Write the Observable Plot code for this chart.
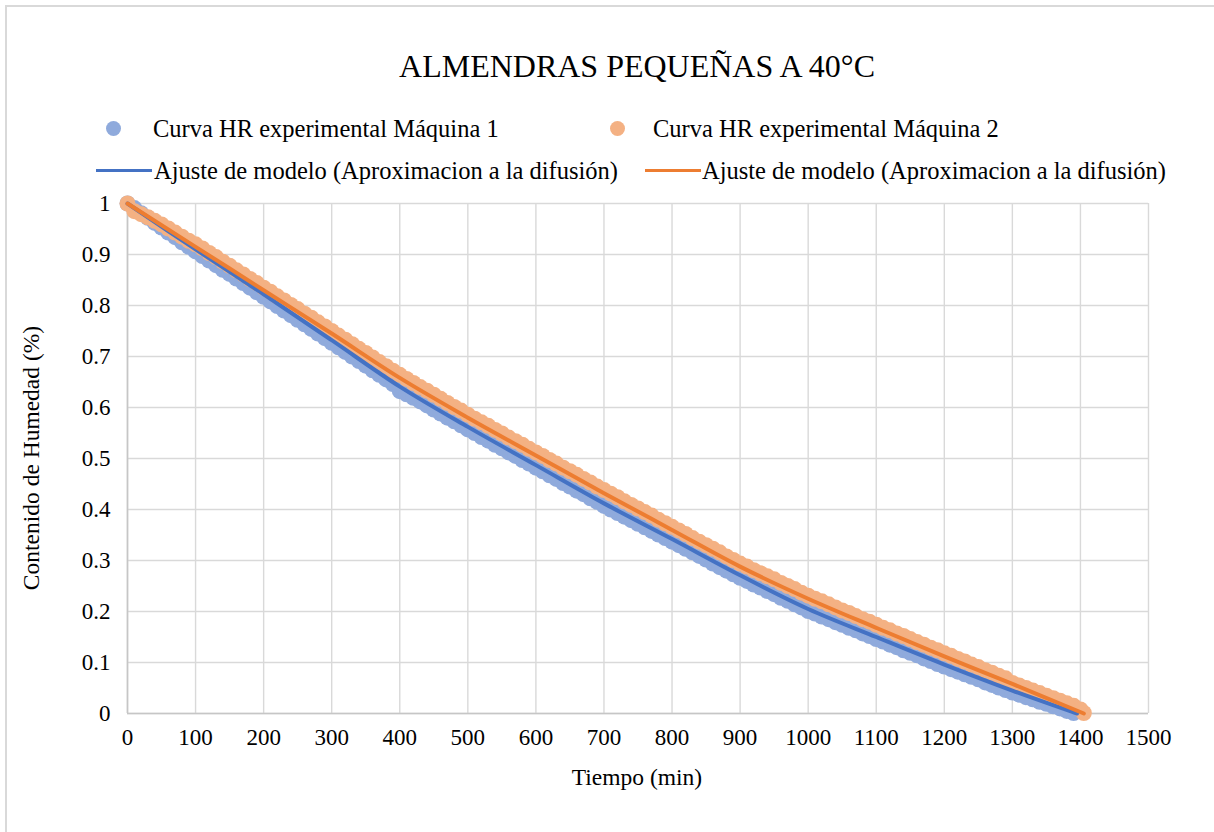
<!DOCTYPE html>
<html><head><meta charset="utf-8">
<script src="https://cdn.jsdelivr.net/npm/d3@7"></script>
<script src="https://cdn.jsdelivr.net/npm/@observablehq/plot@0.6"></script>
<style>
body{margin:0;background:#fff;font-family:"Liberation Serif","Times New Roman",serif;color:#000;}
#wrap{position:relative;width:1214px;height:832px;overflow:hidden;}
#frame{position:absolute;left:5px;top:5px;width:1300px;height:900px;border:2px solid #d9d9d9;box-sizing:border-box;}
#chart{position:absolute;left:0;top:0;}
.t{position:absolute;white-space:nowrap;line-height:1;}
#title{left:0;width:1274px;text-align:center;top:50px;font-size:32px;}
.leg{position:absolute;font-size:24.5px;white-space:nowrap;line-height:1;}
.dot{position:absolute;width:15px;height:15px;border-radius:50%;}
.ln{position:absolute;height:3px;}
#xt{left:0;width:1274px;text-align:center;top:766px;font-size:23.5px;}
#yt{left:32px;top:458px;font-size:23.5px;transform:translate(-50%,-50%) rotate(-90deg);transform-origin:center;}
</style></head>
<body><div id="wrap"><div id="frame"></div><div id="chart"></div>
<div class="t" id="title">ALMENDRAS PEQUEÑAS A 40°C</div>
<div class="dot" style="left:106px;top:121px;background:#8faadc"></div>
<div class="leg" style="left:153px;top:117px">Curva HR experimental Máquina 1</div>
<div class="dot" style="left:610px;top:121px;background:#f4b183"></div>
<div class="leg" style="left:653px;top:117px">Curva HR experimental Máquina 2</div>
<div class="ln" style="left:96px;width:56px;top:169px;background:#4472c4"></div>
<div class="leg" style="left:154px;top:159px">Ajuste de modelo (Aproximacion a la difusión)</div>
<div class="ln" style="left:645px;width:56px;top:169px;background:#ed7d31"></div>
<div class="leg" style="left:702px;top:159px">Ajuste de modelo (Aproximacion a la difusión)</div>
<div class="t" id="xt">Tiempo (min)</div>
<div class="t" id="yt">Contenido de Humedad (%)</div>
</div>
<script>
const xTicks = [0,100,200,300,400,500,600,700,800,900,1000,1100,1200,1300,1400,1500];
const xTickLabels = ["0","100","200","300","400","500","600","700","800","900","1000","1100","1200","1300","1400","1500"];
const yTicks = [0,0.1,0.2,0.3,0.4,0.5,0.6,0.7,0.8,0.9,1];
const yTickLabels = ["0","0.1","0.2","0.3","0.4","0.5","0.6","0.7","0.8","0.9","1"];

// Experimental curve, Máquina 1 (every 10 min)
const m1Time = [0,10,20,30,40,50,60,70,80,90,100,110,120,130,140,150,160,170,180,190,200,210,220,230,240,250,260,270,280,290,300,310,320,330,340,350,360,370,380,390,400,410,420,430,440,450,460,470,480,490,500,510,520,530,540,550,560,570,580,590,600,610,620,630,640,650,660,670,680,690,700,710,720,730,740,750,760,770,780,790,800,810,820,830,840,850,860,870,880,890,900,910,920,930,940,950,960,970,980,990,1000,1010,1020,1030,1040,1050,1060,1070,1080,1090,1100,1110,1120,1130,1140,1150,1160,1170,1180,1190,1200,1210,1220,1230,1240,1250,1260,1270,1280,1290,1300,1310,1320,1330,1340,1350,1360,1370,1380,1390];
const m1HR = [1.000,0.991,0.981,0.972,0.962,0.953,0.943,0.934,0.924,0.915,0.906,0.897,0.888,0.879,0.870,0.862,0.853,0.844,0.835,0.826,0.817,0.808,0.799,0.790,0.781,0.772,0.763,0.754,0.745,0.736,0.727,0.718,0.709,0.700,0.691,0.682,0.673,0.664,0.655,0.646,0.632,0.626,0.619,0.612,0.604,0.596,0.588,0.580,0.573,0.565,0.557,0.550,0.542,0.535,0.527,0.520,0.512,0.505,0.497,0.490,0.482,0.475,0.467,0.460,0.452,0.445,0.437,0.430,0.422,0.415,0.407,0.400,0.393,0.386,0.379,0.372,0.365,0.358,0.351,0.344,0.337,0.330,0.323,0.316,0.309,0.302,0.294,0.287,0.280,0.273,0.266,0.260,0.253,0.247,0.240,0.234,0.227,0.221,0.214,0.208,0.201,0.196,0.190,0.185,0.179,0.174,0.168,0.163,0.157,0.152,0.146,0.141,0.135,0.130,0.124,0.119,0.114,0.108,0.103,0.097,0.092,0.087,0.082,0.077,0.072,0.067,0.061,0.056,0.051,0.046,0.041,0.037,0.032,0.028,0.023,0.019,0.014,0.010,0.005,0.001];

// Experimental curve, Máquina 2 (every 10 min)
const m2Time = [0,10,20,30,40,50,60,70,80,90,100,110,120,130,140,150,160,170,180,190,200,210,220,230,240,250,260,270,280,290,300,310,320,330,340,350,360,370,380,390,400,410,420,430,440,450,460,470,480,490,500,510,520,530,540,550,560,570,580,590,600,610,620,630,640,650,660,670,680,690,700,710,720,730,740,750,760,770,780,790,800,810,820,830,840,850,860,870,880,890,900,910,920,930,940,950,960,970,980,990,1000,1010,1020,1030,1040,1050,1060,1070,1080,1090,1100,1110,1120,1130,1140,1150,1160,1170,1180,1190,1200,1210,1220,1230,1240,1250,1260,1270,1280,1290,1300,1310,1320,1330,1340,1350,1360,1370,1380,1390,1400,1405];
const m2HR = [1.000,0.985,0.979,0.973,0.966,0.959,0.951,0.943,0.935,0.927,0.920,0.912,0.903,0.895,0.886,0.878,0.869,0.861,0.852,0.844,0.835,0.827,0.818,0.810,0.801,0.793,0.784,0.776,0.767,0.759,0.750,0.741,0.733,0.724,0.715,0.707,0.698,0.689,0.681,0.672,0.664,0.656,0.648,0.640,0.633,0.625,0.617,0.609,0.601,0.594,0.586,0.578,0.571,0.564,0.556,0.549,0.541,0.534,0.527,0.519,0.512,0.505,0.497,0.490,0.482,0.475,0.468,0.460,0.453,0.445,0.438,0.431,0.424,0.416,0.409,0.402,0.395,0.388,0.380,0.373,0.366,0.359,0.352,0.344,0.337,0.330,0.323,0.316,0.308,0.301,0.294,0.288,0.281,0.275,0.269,0.263,0.256,0.250,0.244,0.237,0.231,0.225,0.220,0.214,0.208,0.202,0.197,0.191,0.185,0.180,0.174,0.168,0.163,0.157,0.152,0.146,0.140,0.135,0.129,0.124,0.118,0.113,0.107,0.102,0.096,0.091,0.085,0.080,0.074,0.069,0.060,0.055,0.050,0.045,0.040,0.035,0.030,0.025,0.020,0.015,0.008,0.001];

// Model fits (Aproximación a la difusión)
const fit1Time = [0,100,200,300,400,500,600,700,800,900,1000,1100,1200,1300,1395];
const fit1HR = [1.000,0.910,0.822,0.732,0.641,0.562,0.487,0.412,0.342,0.271,0.205,0.150,0.096,0.045,0.000];
const fit2Time = [0,100,200,300,400,500,600,700,800,900,1000,1100,1200,1300,1405];
const fit2HR = [1.000,0.915,0.830,0.745,0.658,0.580,0.506,0.432,0.360,0.288,0.225,0.168,0.112,0.058,0.000];

const m1 = m1Time.map((t,i)=>({t, v:m1HR[i]}));
const m2 = m2Time.map((t,i)=>({t, v:m2HR[i]}));
const f1 = fit1Time.map((t,i)=>({t, v:fit1HR[i]}));
const f2 = fit2Time.map((t,i)=>({t, v:fit2HR[i]}));

const chart = Plot.plot({
  width: 1214, height: 832,
  marginLeft: 127, marginRight: 66, marginTop: 203, marginBottom: 119,
  style: {fontFamily: '"Liberation Serif","Times New Roman",serif', fontSize: "23px", color: "#000", background: "transparent"},
  x: {domain: [0,1500]},
  y: {domain: [0,1]},
  marks: [
    Plot.gridX(xTicks, {stroke: "#d9d9d9", strokeOpacity: 1, strokeWidth: 1.4}),
    Plot.gridY(yTicks, {stroke: "#d9d9d9", strokeOpacity: 1, strokeWidth: 1.4}),
    Plot.ruleY([0], {stroke: "#c6c6c6", strokeWidth: 1.6}),
    Plot.ruleX([0], {stroke: "#c6c6c6", strokeWidth: 1.6}),
    Plot.axisX(xTicks, {tickSize: 0, tickPadding: 15, label: null, fill: "#000", fontSize: 23, tickFormat: (d,i) => xTickLabels[i]}),
    Plot.axisY(yTicks, {tickSize: 0, tickPadding: 17, label: null, fill: "#000", fontSize: 23, tickFormat: (d,i) => yTickLabels[i]}),
    Plot.dot(m1, {x: "t", y: "v", r: 8, fill: "#8faadc", stroke: "none"}),
    Plot.dot(m2, {x: "t", y: "v", r: 8, fill: "#f4b183", stroke: "none"}),
    Plot.line(f1, {x: "t", y: "v", stroke: "#4472c4", strokeWidth: 4, curve: "catmull-rom"}),
    Plot.line(f2, {x: "t", y: "v", stroke: "#ed7d31", strokeWidth: 4, curve: "catmull-rom"})
  ]
});
document.getElementById("chart").appendChild(chart);
</script>
</body></html>
